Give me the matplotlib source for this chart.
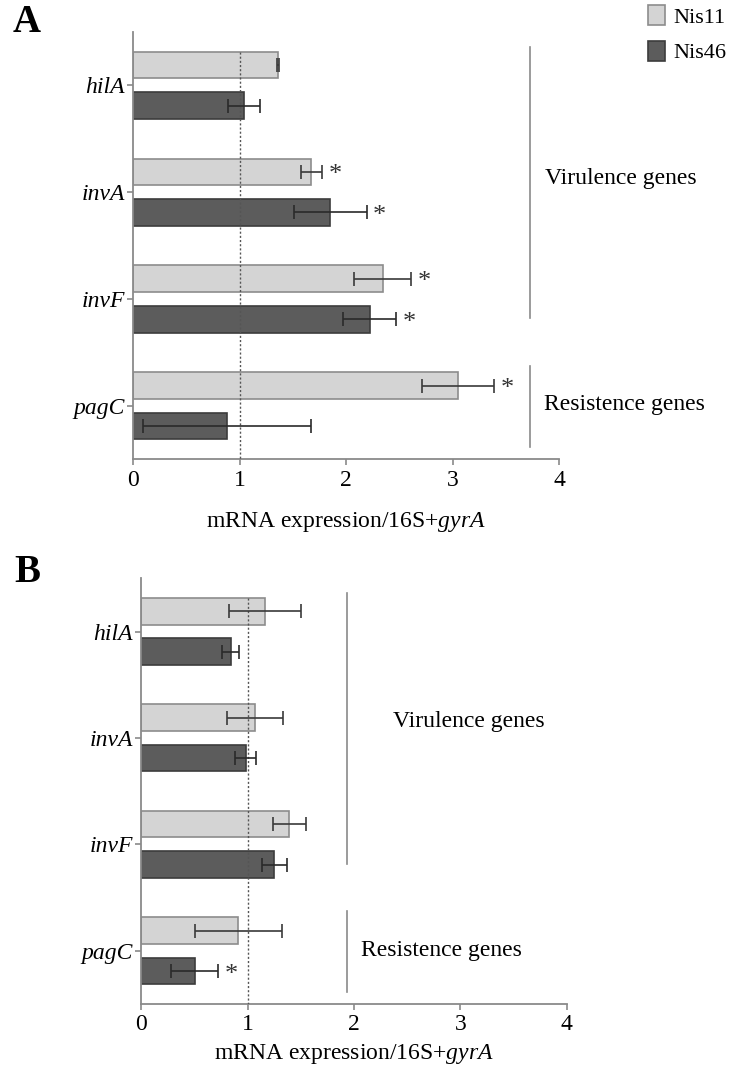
import matplotlib
matplotlib.use("Agg")
import matplotlib.pyplot as plt
import numpy as np

plt.rcParams['font.family'] = ['Liberation Serif', 'DejaVu Serif']
plt.rcParams['mathtext.fontset'] = 'custom'
plt.rcParams['mathtext.rm'] = 'Liberation Serif'
plt.rcParams['mathtext.it'] = 'Liberation Serif:italic'

# genes and expression values (fold change vs 16S+gyrA)
genes = ['hilA', 'invA', 'invF', 'pagC']

a_nis11 = [1.36, 1.67, 2.34, 3.05]
a_nis11_err = [0.01, 0.10, 0.27, 0.34]
a_nis46 = [1.04, 1.85, 2.22, 0.88]
a_nis46_err = [0.15, 0.34, 0.25, 0.79]
a_sig11 = [False, True, True, True]
a_sig46 = [False, True, True, False]

b_nis11 = [1.16, 1.07, 1.39, 0.91]
b_nis11_err = [0.34, 0.26, 0.155, 0.41]
b_nis46 = [0.84, 0.98, 1.25, 0.50]
b_nis46_err = [0.08, 0.10, 0.12, 0.22]
b_sig11 = [False, False, False, False]
b_sig46 = [False, False, False, True]

cor11 = '#d4d4d4'
borda11 = '#8c8c8c'
cor46 = '#5c5c5c'
borda46 = '#3c3c3c'
cinza = '#8a8a8a'
fs = 17

fig = plt.figure(figsize=(7.33, 10.68), dpi=100)


def painel(ax, v11, e11, v46, e46, s11, s46, xgrupo, txt_vir, txt_res, labelpad):
    y = np.arange(len(genes))
    off = 0.19
    h = 0.25
    b1 = ax.barh(y - off, v11, height=h, color=cor11, edgecolor=borda11, linewidth=1.2, zorder=2, label='Nis11')
    b2 = ax.barh(y + off, v46, height=h, color=cor46, edgecolor=borda46, linewidth=1.2, zorder=2, label='Nis46')
    ax.errorbar(v11, y - off, xerr=e11, fmt='none', ecolor='#3a3a3a', elinewidth=1.2, capsize=5, capthick=1.2, zorder=4)
    ax.errorbar(v46, y + off, xerr=e46, fmt='none', ecolor='#2a2a2a', elinewidth=1.2, capsize=5, capthick=1.2, zorder=4)

    # asteriscos de significancia
    for i in range(len(genes)):
        if s11[i]:
            ax.text(v11[i] + e11[i] + 0.06, y[i] - off + 0.09, '*', fontsize=19, ha='left', va='baseline', color='#333333')
        if s46[i]:
            ax.text(v46[i] + e46[i] + 0.06, y[i] + off + 0.09, '*', fontsize=19, ha='left', va='baseline', color='#333333')

    # linha pontilhada em 1
    ax.plot([1, 1], [-off - h / 2, 3.5], color='#555555', linestyle=(0, (1.5, 1.5)), linewidth=1, zorder=3)

    ax.set_xlim(0, 4)
    ax.set_ylim(3.5, -0.5)
    ax.set_yticks(y)
    ax.set_yticklabels(genes, fontstyle='italic', fontsize=fs)
    ax.set_xticks([0, 1, 2, 3, 4])
    ax.tick_params(axis='x', labelsize=fs, length=4, color=cinza, width=1.2)
    ax.tick_params(axis='y', length=4, color=cinza, width=1.2, pad=2)
    for s in ['top', 'right']:
        ax.spines[s].set_visible(False)
    for s in ['left', 'bottom']:
        ax.spines[s].set_color(cinza)
        ax.spines[s].set_linewidth(1.3)
    ax.set_xlabel('mRNA expression/16S+$\\mathit{gyrA}$', fontsize=fs, labelpad=labelpad)

    # grupos de genes
    ax.plot([xgrupo, xgrupo], [-0.36, 2.18], color=cinza, linewidth=1.2, clip_on=False)
    ax.plot([xgrupo, xgrupo], [2.63, 3.39], color=cinza, linewidth=1.2, clip_on=False)
    ax.text(txt_vir[0], txt_vir[1], 'Virulence genes', fontsize=fs, ha='center', va='center', clip_on=False)
    ax.text(txt_res[0], txt_res[1], 'Resistence genes', fontsize=fs, ha='center', va='center', clip_on=False)
    return b1, b2


axA = fig.add_axes([0.1819, 0.5700, 0.5812, 0.4001])
b1, b2 = painel(axA, a_nis11, a_nis11_err, a_nis46, a_nis46_err, a_sig11, a_sig46,
                3.72, (4.58, 0.87), (4.61, 2.99), 14)

axB = fig.add_axes([0.1928, 0.0599, 0.5804, 0.3986])
painel(axB, b_nis11, b_nis11_err, b_nis46, b_nis46_err, b_sig11, b_sig46,
       1.93, (3.08, 0.85), (2.82, 3.0), 5)

fig.text(26.7 / 733, 1 - 23 / 1068, 'A', fontsize=28, fontweight='bold', ha='center', va='center')
fig.text(27.5 / 733, 1 - 573 / 1068, 'B', fontsize=28, fontweight='bold', ha='center', va='center')

fig.legend(handles=[b1, b2], labels=['Nis11', 'Nis46'], loc='upper left',
           bbox_to_anchor=(648 / 733, 1 - 5 / 1068), frameon=False, fontsize=16,
           borderpad=0, borderaxespad=0, handlelength=0.75, handleheight=1.0,
           handletextpad=0.4, labelspacing=0.6)

fig.savefig('out.png', dpi=100)
